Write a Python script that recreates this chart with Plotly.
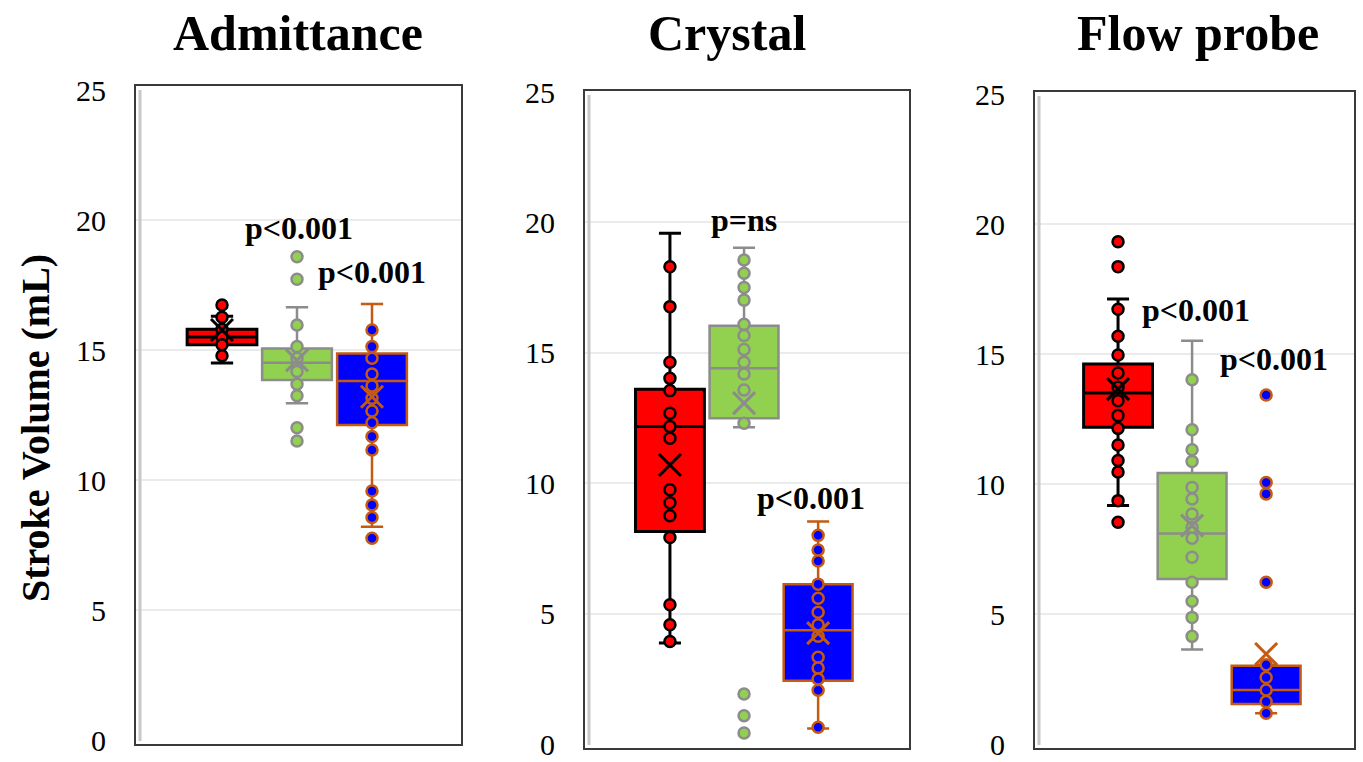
import plotly.graph_objects as go

W, H = 1363, 762
FONT = "Liberation Serif, Times New Roman, serif"

panels = ["Admittance", "Crystal", "Flow probe"]
positions = [-1, 0, 1]

# ---- box statistics per panel (Admittance, Crystal, Flow probe) ----
red_q1 = [15.2, 8.15, 12.18]
red_median = [15.5, 12.17, 13.5]
red_q3 = [15.8, 13.6, 14.62]
red_low = [14.5, 3.87, 9.17]
red_high = [16.3, 19.58, 17.12]
red_mean = [15.77, 10.7, 13.65]

green_q1 = [13.85, 12.49, 6.35]
green_median = [14.51, 14.41, 8.1]
green_q3 = [15.06, 16.04, 10.42]
green_low = [12.95, 12.15, 3.63]
green_high = [16.64, 19.03, 15.51]
green_mean = [14.6, 13.07, 8.4]

blue_q1 = [12.12, 2.43, 1.54]
blue_median = [13.81, 4.36, 2.08]
blue_q3 = [14.87, 6.13, 3.01]
blue_low = [8.2, 0.59, 1.18]
blue_high = [16.77, 8.53, 3.05]
blue_mean = [13.2, 4.25, 3.46]

# ---- individual points ----
adm_red = [16.73, 16.26, 15.8, 15.5, 15.2, 14.78]
adm_green = [18.59, 17.72, 15.96, 15.13, 14.68, 14.17, 13.68, 13.24, 12.01, 11.5]
adm_blue = [15.77, 15.13, 14.68, 14.08, 13.62, 13.14, 12.65, 12.2, 11.67, 11.15,
            9.58, 9.04, 8.56, 7.76]
cry_red = [18.3, 16.77, 14.64, 14.02, 13.55, 12.68, 12.17, 11.72, 9.75, 9.25, 8.75,
           7.92, 5.34, 4.57, 3.93]
cry_green = [18.56, 18.05, 17.5, 17.02, 16.09, 15.66, 15.13, 14.64, 14.19, 13.57,
             12.3, 1.92, 1.08, 0.42]
cry_blue = [8.0, 7.44, 7.02, 6.13, 5.59, 5.05, 4.57, 4.13, 3.33, 2.91, 2.49, 2.06, 0.64]
flow_red = [19.32, 18.36, 16.72, 15.68, 14.96, 14.27, 13.72, 13.2, 12.63, 12.14,
            11.5, 10.9, 10.46, 9.36, 8.53]
flow_green = [14.01, 12.09, 11.32, 10.87, 9.87, 9.42, 8.85, 8.33, 7.91, 7.18, 6.22,
              5.49, 4.87, 4.14]
flow_blue = [13.42, 10.06, 9.62, 6.22, 3.05, 2.56, 2.08, 1.63, 1.18]

points = [[adm_red, adm_green, adm_blue],
          [cry_red, cry_green, cry_blue],
          [flow_red, flow_green, flow_blue]]

# annotations: (panel, x position, y value, text)
p_labels = [(0, 0.03, 19.7, "p<0.001"), (0, 1.0, 18.0, "p<0.001"),
            (1, 0.0, 20.1, "p=ns"), (1, 0.9, 9.45, "p<0.001"),
            (2, 0.05, 16.7, "p<0.001"), (2, 1.1, 14.8, "p<0.001")]

y_ticks = [0, 5, 10, 15, 20, 25]

# ---- styling ----
fills = ["#FF0000", "#92D050", "#0000FF"]
edges = ["#000000", "#8C8C8C", "#C55A11"]
edge_w = [3, 2.5, 2.5]

# panel frames in pixels: (x0, x1, ytop, ybottom) and axis mapping
frames = [(135, 462, 85, 745), (584, 910, 90, 749), (1034, 1355, 91, 749)]
y_pix = [(740, 90), (744, 92), (744, 94)]    # (value 0, value 25)
x_rng = [(-2.16, 2.2), (-2.16, 2.24), (-2.135, 2.2)]
title_x = [298, 727, 1198]

stats = [
    (red_q1, red_median, red_q3, red_low, red_high, red_mean),
    (green_q1, green_median, green_q3, green_low, green_high, green_mean),
    (blue_q1, blue_median, blue_q3, blue_low, blue_high, blue_mean),
]

fig = go.Figure()
layout = dict(width=W, height=H, margin=dict(l=0, r=0, t=0, b=0, pad=0,
                                             autoexpand=False),
              paper_bgcolor="white", plot_bgcolor="white", showlegend=False,
              font=dict(family=FONT, color="black"))
annotations = []
shapes = []

for p in range(3):
    xa = "x" if p == 0 else f"x{p+1}"
    ya = "y" if p == 0 else f"y{p+1}"
    x0, x1, yt, yb = frames[p]
    layout["xaxis" if p == 0 else f"xaxis{p+1}"] = dict(
        domain=[x0 / W, x1 / W], range=list(x_rng[p]), showgrid=False,
        showticklabels=False, zeroline=False, showline=False, anchor=ya,
        fixedrange=True, automargin=False)
    layout["yaxis" if p == 0 else f"yaxis{p+1}"] = dict(
        domain=[1 - y_pix[p][0] / H, 1 - y_pix[p][1] / H], range=[0, 25],
        tickvals=y_ticks, ticktext=[str(v) for v in y_ticks],
        tickfont=dict(size=30, family=FONT, color="black"),
        ticks="outside", ticklen=22, tickcolor="rgba(0,0,0,0)",
        ticklabeloverflow="allow",
        showgrid=True, gridcolor="#EBEBEB", gridwidth=2, zeroline=False,
        showline=False, anchor=xa, fixedrange=True, automargin=False)

    for s in range(3):
        q1, med, q3, lo, hi, mn = stats[s]
        fig.add_trace(go.Box(
            x=[positions[s]], q1=[q1[p]], median=[med[p]], q3=[q3[p]],
            lowerfence=[lo[p]], upperfence=[hi[p]], width=0.93,
            whiskerwidth=0.32, boxpoints=False, fillcolor=fills[s],
            line=dict(color=edges[s], width=edge_w[s]),
            xaxis=xa, yaxis=ya, hoverinfo="skip"))
        vals = points[p][s]
        fig.add_trace(go.Scatter(
            x=[positions[s]] * len(vals), y=vals, mode="markers",
            marker=dict(size=11, color=fills[s],
                        line=dict(color=edges[s], width=2.5)),
            xaxis=xa, yaxis=ya, hoverinfo="skip"))
        fig.add_trace(go.Scatter(
            x=[positions[s]], y=[mn[p]], mode="markers",
            marker=dict(symbol="x-thin-open", size=22, color=edges[s],
                        line=dict(color=edges[s], width=3)),
            xaxis=xa, yaxis=ya, hoverinfo="skip"))

    # frame
    shapes.append(dict(type="rect", xref="paper", yref="paper",
                       x0=x0 / W, x1=x1 / W, y0=1 - yb / H, y1=1 - yt / H,
                       line=dict(color="#3A3A3A", width=2), layer="above"))
    shapes.append(dict(type="line", xref="paper", yref="paper",
                       x0=(x0 + 5) / W, x1=(x0 + 5) / W,
                       y0=1 - (yb - 4) / H, y1=1 - (yt + 5) / H,
                       line=dict(color="#C8C8C8", width=3), layer="above"))
    annotations.append(dict(text="<b>" + panels[p] + "</b>", xref="paper",
                            yref="paper", x=title_x[p] / W, y=1 - 33 / H,
                            xanchor="center", yanchor="middle", showarrow=False,
                            font=dict(size=50, family=FONT, color="black")))

for (p, xv, yv, txt) in p_labels:
    xa = "x" if p == 0 else f"x{p+1}"
    ya = "y" if p == 0 else f"y{p+1}"
    annotations.append(dict(text="<b>" + txt + "</b>", xref=xa, yref=ya,
                            x=xv, y=yv, xanchor="center", yanchor="middle",
                            showarrow=False,
                            font=dict(size=32, family=FONT, color="black")))

annotations.append(dict(text="<b>Stroke Volume (mL)</b>", xref="paper",
                        yref="paper", x=35 / W, y=1 - 428 / H, textangle=-90,
                        xanchor="center", yanchor="middle", showarrow=False,
                        font=dict(size=40, family=FONT, color="black")))

layout["annotations"] = annotations
layout["shapes"] = shapes
fig.update_layout(**layout)
fig.write_html("out.html")
